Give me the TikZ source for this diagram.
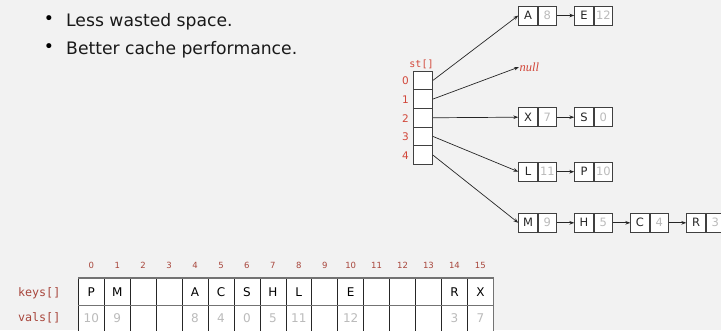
\documentclass[tikz,border=0pt]{standalone}
\usepackage{fontspec}
\setmainfont{DejaVu Sans}
\setmonofont{DejaVu Sans Mono}
\newfontfamily\serifit{Liberation Serif}
\usetikzlibrary{arrows.meta}
\definecolor{bg}{HTML}{F2F2F2}
\definecolor{idxred}{HTML}{A8463C}
\definecolor{stred}{HTML}{D2473A}
\definecolor{valgray}{HTML}{BBBBBB}
\begin{document}
\begin{tikzpicture}[x=1pt,y=-1pt,
  keycell/.style={draw=black!75, line width=0.7pt, fill=white, minimum width=18.7pt, minimum height=19pt, inner sep=0pt, font=\fontsize{11.5}{12}\selectfont, text=black!85},
  valcell/.style={keycell, text=valgray},
  stcell/.style={draw=black!75, line width=0.7pt, fill=white, minimum width=19.3pt, minimum height=18.7pt, inner sep=0pt},
  ptr/.style={-{Stealth[length=5pt,width=3.6pt]}, line width=0.7pt, draw=black!85},
  bullettext/.style={anchor=base west, inner sep=0pt, font=\fontsize{17.2}{20}\selectfont, text=black!90},
  stidx/.style={text=stred, font=\fontsize{10.5}{12}\selectfont, inner sep=0pt},
  tidx/.style={text=idxred, font=\fontsize{8.5}{10}\selectfont, inner sep=0pt},
  tkey/.style={draw=black!85, line width=0.6pt, fill=white, minimum width=25.94pt, minimum height=26.7pt, inner sep=0pt, font=\fontsize{12}{14}\selectfont},
  tval/.style={tkey, text=valgray},
  rowlbl/.style={anchor=east, text=idxred, font=\ttfamily\fontsize{11.7}{14}\selectfont, inner sep=0pt}
]
\fill[bg] (0,0) rectangle (721,330);
\useasboundingbox (0,0) rectangle (721,330);

% bullets
\node[font=\fontsize{17.2}{20}\selectfont, inner sep=0pt] (b1) at (49,20.5) {•};
\node[bullettext] (t1) at (66,26.7) {Less wasted space.};
\node[font=\fontsize{17.2}{20}\selectfont, inner sep=0pt] (b2) at (49,48) {•};
\node[bullettext] (t2) at (66,54.3) {Better cache performance.};

% st[] array
\node[text=stred, font=\ttfamily\fontsize{10}{12}\selectfont, inner sep=0pt, anchor=south] (stlbl) at (421.5,69) {st[]};
\foreach \i/\y in {0/80.35,1/99.05,2/117.75,3/136.45,4/155.15}{
  \node[stcell] (s\i) at (423,\y) {};
  \node[stidx] (si\i) at (405.5,\y+0.5) {\i};
}

% linked list nodes
\foreach \n/\k/\v/\x/\y in {A/A/8/518.3/15.5, E/E/12/574.3/15.5, X/X/7/518.3/117.2, S/S/0/574.3/117.2, L/L/11/518.3/171.7, P/P/10/574.3/171.7, M/M/9/518.3/222.8, H/H/5/574.3/222.8, C/C/4/630.3/222.8, R/R/3/686.3/222.8}{
  \node[keycell, anchor=west] (\n) at (\x,\y) {\k};
  \node[valcell, anchor=west] (\n-v) at (\n.east) {\v};
}
\node[anchor=west, inner sep=0.5pt, text=stred, font=\serifit\itshape\fontsize{12.5}{13}\selectfont] (null) at (519,67) {null};

\draw[ptr] (s0.east) -- (A.west);
\draw[ptr] (s1.east) -- (null.west);
\draw[ptr] (s2.east) -- (X.west);
\draw[ptr] (s3.east) -- (L.west);
\draw[ptr] (s4.east) -- (M.west);
\draw[ptr] (A-v.east) -- (E.west);
\draw[ptr] (X-v.east) -- (S.west);
\draw[ptr] (L-v.east) -- (P.west);
\draw[ptr] (M-v.east) -- (H.west);
\draw[ptr] (H-v.east) -- (C.west);
\draw[ptr] (C-v.east) -- (R.west);

% hash table arrays
\node[rowlbl] (keyslbl) at (60.5,293) {keys[]};
\node[rowlbl] (valslbl) at (60.5,317.5) {vals[]};
\foreach \i/\k/\v in {0/P/10,1/M/9,2//,3//,4/A/8,5/C/4,6/S/0,7/H/5,8/L/11,9//,10/E/12,11//,12//,13//,14/R/3,15/X/7}{
  \node[tkey] (k\i) at (78.3+12.97+25.94*\i,291.65) {\k};
  \node[tval] (v\i) at (78.3+12.97+25.94*\i,318.35) {\v};
  \node[tidx] (ti\i) at (78.3+12.97+25.94*\i,265) {\i};
}
\draw[black!55, line width=1.3pt] (k0.north west) -- (k15.north east);
\draw[black!55, line width=1.3pt] (k0.south west) -- (k15.south east);
\draw[black!55, line width=1.3pt] (k15.north east) -- (v15.south east);
\end{tikzpicture}
\end{document}
